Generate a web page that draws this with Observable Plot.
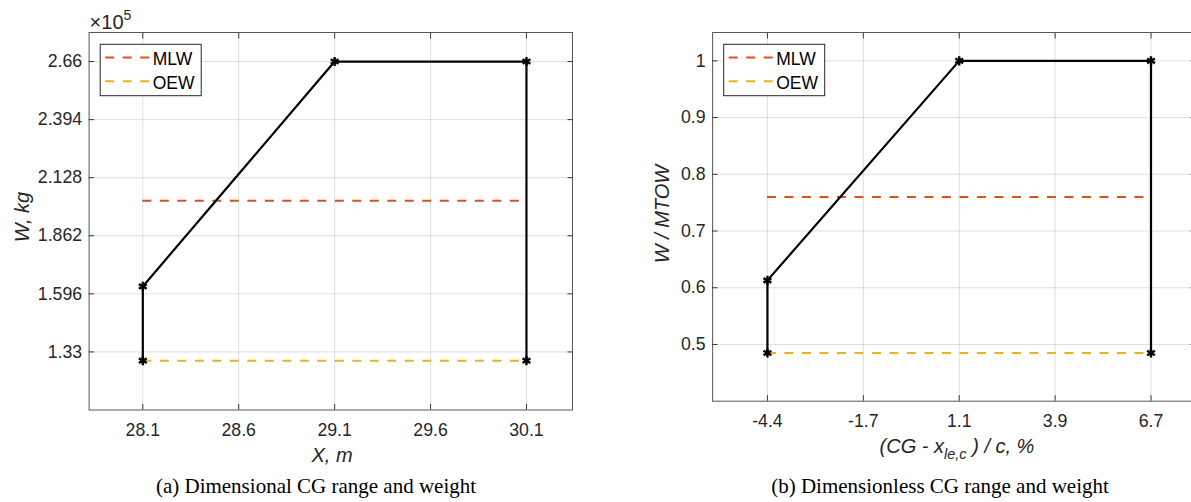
<!DOCTYPE html>
<html><head><meta charset="utf-8">
<script src="https://cdn.jsdelivr.net/npm/d3@7"></script>
<script src="https://cdn.jsdelivr.net/npm/@observablehq/plot@0.6"></script>
<style>
html,body{margin:0;padding:0;background:#fff;overflow:hidden;}
#wrap{position:relative;width:1191px;height:502px;overflow:hidden;background:#fff;}
#wrap svg{position:absolute;top:0;}
</style></head><body><div id="wrap"></div>
<script>
// ---- data ----
const seriesNames = ["MLW", "OEW"];
const seriesColors = ["#D95319", "#EDB120"];

// (a) dimensional
const xTicksA = [28.1, 28.6, 29.1, 29.6, 30.1];
const xTickLabelsA = ["28.1", "28.6", "29.1", "29.6", "30.1"];
const yTicksA = [1.33, 1.596, 1.862, 2.128, 2.394, 2.66];
const yTickLabelsA = ["1.33", "1.596", "1.862", "2.128", "2.394", "2.66"];
const cgX = [28.1, 28.1, 29.1, 30.1, 30.1];          // m
const cgW = [1.29, 1.63, 2.66, 2.66, 1.29];          // x10^5 kg
const mlwA = 2.022;
const oewA = 1.29;

// (b) dimensionless
const xTicksB = [-4.45, -1.67, 1.11, 3.89, 6.67];
const xTickLabelsB = ["-4.4", "-1.7", "1.1", "3.9", "6.7"];
const yTicksB = [0.5, 0.6, 0.7, 0.8, 0.9, 1];
const yTickLabelsB = ["0.5", "0.6", "0.7", "0.8", "0.9", "1"];
const cgPct = [-4.45, -4.45, 1.11, 6.67, 6.67];     // %
const cgRatio = [0.485, 0.613, 1, 1, 0.485];        // W / MTOW
const mlwB = 0.76;
const oewB = 0.485;

const SANS = "'Liberation Sans', Arial, Helvetica, sans-serif";
const SERIF = "'Liberation Serif', 'Times New Roman', serif";
const AXC = "#3a3a3a";
const TXT = "#262626";
const DASH = "9,8.5";

function panel(cfg) {
  const data = cfg.px.map((x, i) => ({x, y: cfg.py[i]}));
  const fmtX = d => cfg.xLabels[cfg.xTicks.indexOf(d)];
  const fmtY = d => cfg.yLabels[cfg.yTicks.indexOf(d)];
  const x1 = d3.min(cfg.px), x2 = d3.max(cfg.px);
  const empty = () => "";
  const svg = Plot.plot({
    width: 600, height: 502,
    marginLeft: cfg.ml, marginRight: cfg.mr, marginTop: 32, marginBottom: cfg.mb,
    style: {fontFamily: SANS, fontSize: "17.7px", color: TXT, background: "#fff", overflow: "visible"},
    x: {domain: cfg.xDomain},
    y: {domain: cfg.yDomain},
    marks: [
      Plot.gridX(cfg.xTicks, {stroke: "#262626", strokeOpacity: 0.15}),
      Plot.gridY(cfg.yTicks, {stroke: "#262626", strokeOpacity: 0.15}),
      Plot.ruleY([cfg.mlw], {x1, x2, stroke: seriesColors[0], strokeWidth: 2, strokeDasharray: DASH}),
      Plot.ruleY([cfg.oew], {x1, x2, stroke: seriesColors[1], strokeWidth: 2, strokeDasharray: DASH}),
      Plot.line(data, {x: "x", y: "y", stroke: "#000", strokeWidth: 2.2}),
      Plot.dot(data, {x: "x", y: "y", symbol: "asterisk", r: 4.3, stroke: "#000", strokeWidth: 2.4}),
      Plot.frame({stroke: AXC, strokeOpacity: 0.85}),
      Plot.axisX(cfg.xTicks, {anchor: "bottom", tickSize: 0, tickPadding: 13, tickFormat: fmtX, label: null, fill: TXT}),
      Plot.axisX(cfg.xTicks, {anchor: "bottom", tickSize: 5.5, dy: -5.5, tickFormat: empty, label: null, stroke: AXC}),
      Plot.axisX(cfg.xTicks, {anchor: "top", tickSize: 5.5, dy: 5.5, tickFormat: empty, label: null, stroke: AXC}),
      Plot.axisY(cfg.yTicks, {anchor: "left", tickSize: 0, tickPadding: 7, tickFormat: fmtY, label: null, fill: TXT}),
      Plot.axisY(cfg.yTicks, {anchor: "left", tickSize: 5.5, dx: 5.5, tickFormat: empty, label: null, stroke: AXC}),
      Plot.axisY(cfg.yTicks, {anchor: "right", tickSize: 5.5, dx: -5.5, tickFormat: empty, label: null, stroke: AXC})
    ]
  });
  svg.style.left = cfg.left + "px";
  const s = d3.select(svg);

  // legend
  const lg = s.append("g").attr("transform", `translate(${cfg.ml + 11.6},44.3)`);
  lg.append("rect").attr("width", 101).attr("height", 51.4)
    .attr("fill", "#fff").attr("stroke", "#262626").attr("stroke-width", 1);
  seriesNames.forEach((n, i) => {
    const yy = 13.2 + i * 23.7;
    lg.append("line").attr("x1", 5).attr("x2", 49.5).attr("y1", yy).attr("y2", yy)
      .attr("stroke", seriesColors[i]).attr("stroke-width", 2).attr("stroke-dasharray", DASH);
    lg.append("text").attr("x", 52.5).attr("y", yy + 7.6).attr("text-anchor", "start")
      .style("font-family", SANS).style("font-size", "17.5px").attr("fill", "#000").text(n);
  });

  // axis labels
  const xl = s.append("text").attr("x", cfg.xlX).attr("y", cfg.xlY)
    .attr("text-anchor", "middle").style("font-family", SANS).style("font-size", "20px")
    .attr("font-style", "italic").attr("fill", TXT).style("white-space", "pre");
  cfg.xLabel(xl);
  s.append("text").attr("transform", `translate(${cfg.ylX},${cfg.ylY}) rotate(-90)`)
    .attr("text-anchor", "middle").style("font-family", SANS).style("font-size", "20px")
    .attr("font-style", "italic").attr("fill", TXT).text(cfg.yLabel);

  // caption
  s.append("text").attr("x", cfg.capX).attr("y", 493).attr("text-anchor", "middle")
    .style("font-family", SERIF).style("font-size", "21px").attr("fill", "#000").text(cfg.caption);

  if (cfg.exponent) {
    const e = s.append("text").attr("x", cfg.ml + 1).attr("y", 29).attr("text-anchor", "start")
      .style("font-family", SANS).style("font-size", "20px").attr("fill", TXT);
    e.append("tspan").style("font-size", "20px").text("\u00d710");
    e.append("tspan").attr("dy", -9).style("font-size", "14px").text("5");
  }
  document.getElementById("wrap").appendChild(svg);
}

panel({
  left: 0, ml: 88.6, mr: 28, mb: 92.5,
  xDomain: [27.82, 30.34], yDomain: [1.064, 2.793],
  xTicks: xTicksA, xLabels: xTickLabelsA, yTicks: yTicksA, yLabels: yTickLabelsA,
  px: cgX, py: cgW, mlw: mlwA, oew: oewA,
  xlX: 332, xlY: 461.5,
  xLabel: t => t.text("X, m"),
  ylX: 28.5, ylY: 217, yLabel: "W, kg",
  capX: 316, caption: "(a) Dimensional CG range and weight",
  exponent: true
});

panel({
  left: 600, ml: 112.1, mr: 5, mb: 101.3,
  xDomain: [-6.04, 7.96], yDomain: [0.4, 1.05],
  xTicks: xTicksB, xLabels: xTickLabelsB, yTicks: yTicksB, yLabels: yTickLabelsB,
  px: cgPct, py: cgRatio, mlw: mlwB, oew: oewB,
  xlX: 357, xlY: 453,
  xLabel: t => {
    t.append("tspan").text("(CG - x");
    t.append("tspan").attr("dy", 6).style("font-size", "14.5px").text("le,c");
    t.append("tspan").attr("dy", -6).text(" ) / c, %");
  },
  ylX: 68.5, ylY: 214, yLabel: "W / MTOW",
  capX: 340, caption: "(b) Dimensionless CG range and weight",
  exponent: false
});
</script></body></html>
